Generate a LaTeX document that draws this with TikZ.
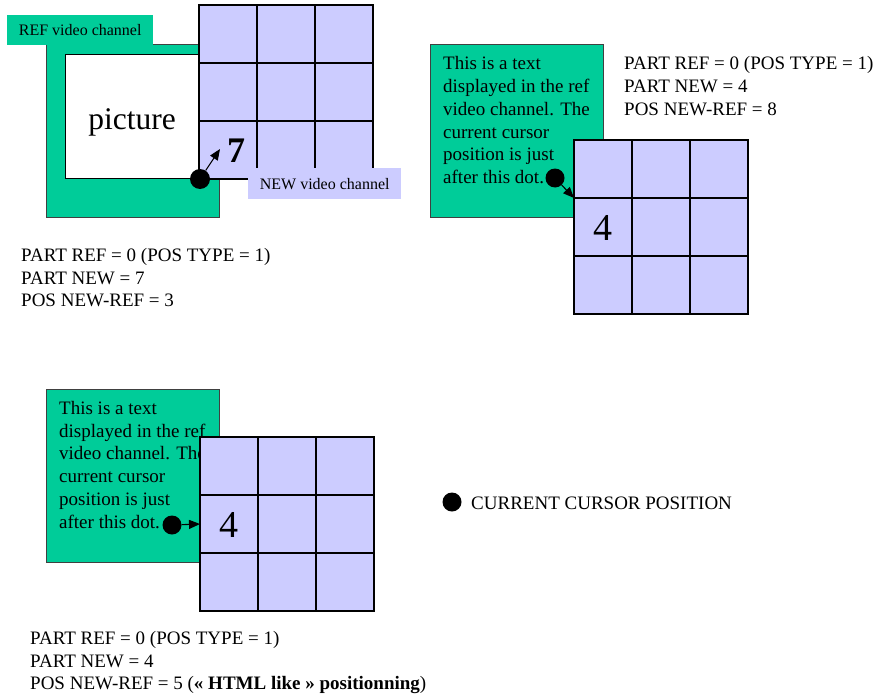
\documentclass[tikz,border=0pt]{standalone}
\usepackage{fontspec}
\setmainfont{Liberation Serif}
\usetikzlibrary{arrows.meta}
\definecolor{refgreen}{RGB}{0,204,153}
\definecolor{newblue}{RGB}{204,204,255}
\begin{document}
\begin{tikzpicture}[x=1pt,y=-1pt,
  greenbox/.style={draw=black!75, fill=refgreen, line width=0.9pt},
  cell/.style={draw=black, fill=newblue, line width=1.2pt, minimum width=58pt, minimum height=58pt, inner sep=0pt, outer sep=0pt, anchor=north west},
  chlabel/.style={inner sep=0pt, font=\fontsize{16}{18}\selectfont},
  maintext/.style={align=left, inner sep=0pt, anchor=north west, font=\fontsize{19}{22.8}\selectfont},
  cursor/.style={circle, fill=black, minimum size=19pt, inner sep=0pt},
  ptr/.style={-{Triangle[length=11pt,width=9pt]}, line width=1.1pt},
  bignum/.style={inner sep=0pt, font=\fontsize{38}{38}\selectfont},
]
\useasboundingbox (0,0) rectangle (882,695);

% ---------- diagram 1 ----------
\path[greenbox] (46,44) rectangle (219,217);
\node[draw=black, line width=0.9pt, fill=white, minimum width=135pt, minimum height=124pt, inner sep=0pt, anchor=north west] (picbox) at (65,54) {};
\node[inner sep=0pt, anchor=base, font=\fontsize{31.5}{31.5}\selectfont] (pic) at (132,129.5) {picture};
\node[fill=refgreen, chlabel, minimum width=146pt, minimum height=30pt, anchor=north west] (reflbl) at (7,15) {REF video channel};
\foreach \r in {0,1,2} \foreach \c in {0,1,2}
  \node[cell] (ga-\r-\c) at ({199+58*\c},{5+58*\r}) {};
\node[fill=newblue, chlabel, minimum width=153pt, minimum height=31pt, anchor=north west] (newlbl) at (248,168) {NEW video channel};
\node[inner sep=0pt, font=\fontsize{36}{36}\bfseries\selectfont] (seven) at (236,151) {7};
\node[cursor, minimum size=20pt] (dot1) at (200,179) {};
\coordinate (tip1) at (220,149);
\draw[ptr] (dot1) -- (tip1);
\node[maintext] (txt1) at (21,248) {PART REF = 0 (POS TYPE = 1)\\PART NEW = 7\\POS NEW-REF = 3};

% ---------- diagram 2 ----------
\node[greenbox, minimum width=173pt, minimum height=173pt, anchor=north west, inner sep=0pt] (box2) at (430,44) {};
\node[maintext] (boxtxt2) at (443,56.3) {This is a text\\displayed in the ref\\video channel. The\\current cursor\\position is just\\after this dot.};
\foreach \r in {0,1,2} \foreach \c in {0,1,2}
  \node[cell] (gb-\r-\c) at ({574+58*\c},{140+58*\r}) {};
\node[bignum] (four2) at (603,228) {4};
\node[cursor] (dot2) at (555,178) {};
\draw[ptr] (dot2) -- (gb-1-0.north west);
\node[maintext] (txt2) at (624,56.3) {PART REF = 0 (POS TYPE = 1)\\PART NEW = 4\\POS NEW-REF = 8};

% ---------- diagram 3 ----------
\node[greenbox, minimum width=173pt, minimum height=173pt, anchor=north west, inner sep=0pt] (box3) at (46,389) {};
\node[maintext] (boxtxt3) at (59,401) {This is a text\\displayed in the ref\\video channel. The\\current cursor\\position is just\\after this dot.};
\foreach \r in {0,1,2} \foreach \c in {0,1,2}
  \node[cell] (gc-\r-\c) at ({200+58*\c},{437+58*\r}) {};
\node[bignum] (four3) at (229,525) {4};
\node[cursor] (dot3) at (172,525) {};
\draw[ptr] (dot3) -- (gc-1-0.west);
\node[maintext] (txt3) at (30,631) {PART REF = 0 (POS TYPE = 1)\\PART NEW = 4\\POS NEW-REF = 5 (\textbf{« HTML like » positionning})};

% ---------- legend ----------
\node[cursor] (legdot) at (452,502) {};
\node[inner sep=0pt, anchor=base west, font=\fontsize{19}{22.8}\selectfont] (legtxt) at (471,509) {CURRENT CURSOR POSITION};
\end{tikzpicture}
\end{document}
